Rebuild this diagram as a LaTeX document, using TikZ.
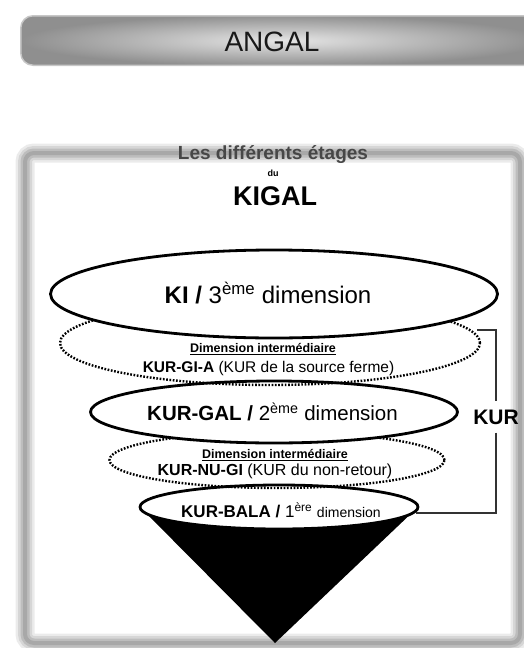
\documentclass[tikz,border=0pt]{standalone}
\usepackage{fontspec}
\setmainfont{Liberation Sans}
\usetikzlibrary{shapes.geometric}
\pgfdeclarelayer{bg}
\pgfsetlayers{bg,main}
\newcommand{\fs}[1]{\fontsize{#1}{#1}\selectfont}
\begin{document}
\begin{tikzpicture}[x=1pt,y=-1pt,
  solidell/.style={ellipse, draw=black, line width=2.8pt, fill=white, inner sep=0pt},
  dotell/.style={ellipse, draw=black, line width=2.4pt, dash pattern=on 1.7pt off 1.6pt, inner sep=0pt},
  lbl/.style={inner sep=0pt, align=center, text=black},
  bracketline/.style={line width=1.6pt, draw=black!80},
  framepath/.style={rounded corners=9pt}
]
\useasboundingbox (0,0) rectangle (524,648);

% banner
\shade[rounded corners=13pt, inner color=black!10, outer color=black!44] (20,15) rectangle (545,66);
\draw[rounded corners=13pt, line width=3pt, white, opacity=0.5] (20,15) rectangle (545,66);
\node[lbl, font=\fs{28}, text=black!90] (angal) at (272,42) {ANGAL};

\begin{pgfonlayer}{bg}
  % frame
  \draw[framepath, line width=19pt, black!8] (25,153) rectangle (520,643);
  \draw[framepath, line width=14pt, black!16] (25,153) rectangle (520,643);
  \draw[framepath, line width=9pt, black!26] (25,153) rectangle (520,643);
  \draw[framepath, line width=4pt, black!34] (25,153) rectangle (520,643);
  % cone
  \coordinate (tip) at (275,643);
  \coordinate (cl) at (140,507);
  \coordinate (cr) at (418,507);
  \fill[black] (cl) -- (tip) -- (cr) -- cycle;
\end{pgfonlayer}

% title
\node[lbl, font=\bfseries\fs{19}, text=black!72] (t1) at (273,155) {Les différents étages};
\node[lbl, font=\bfseries\fs{9}] (t2) at (273,173) {du};
\node[lbl, font=\bfseries\fs{27}] (t3) at (275,196) {KIGAL};

% stacked levels (drawn bottom to top)
\node[solidell, minimum width=278pt, minimum height=44pt] (bala) at (279,507) {};
\node[dotell, minimum width=335pt, minimum height=56pt] (d2) at (277,460) {};
\node[solidell, minimum width=367pt, minimum height=62pt] (gal) at (274,412) {};
\node[dotell, minimum width=420pt, minimum height=84pt] (d1) at (270,343) {};
\node[solidell, minimum width=447pt, minimum height=88pt] (ki) at (274,294) {};

% texts
\node[lbl, font=\fs{24}] (kit) at (268,293) {\textbf{KI / }3\textsuperscript{ème} dimension};
\node[lbl, font=\bfseries\fs{12.5}] (d1a) at (263,349) {\underline{Dimension intermédiaire}};
\node[lbl, font=\fs{15.5}] (d1b) at (268.5,368) {\textbf{KUR-GI-A} (KUR de la source ferme)};
\node[lbl, font=\fs{20.5}] (galt) at (272.5,412) {\textbf{KUR-GAL / }2\textsuperscript{ème} dimension};
\node[lbl, font=\bfseries\fs{12.5}] (d2a) at (275,455) {\underline{Dimension intermédiaire}};
\node[lbl, font=\fs{16}] (d2b) at (275,471) {\textbf{KUR-NU-GI} (KUR du non-retour)};
\node[lbl, font=\fs{17}] (balat) at (281,510) {\textbf{KUR-BALA / }1\textsuperscript{ère} {\fs{14}dimension}};

% bracket
\coordinate (b1) at (477,330);
\coordinate (b2) at (416,513);
\node[font=\bfseries\fs{21}, inner xsep=2pt, inner ysep=8pt] (kur) at (496,417) {KUR};
\draw[bracketline] (b1) -| (kur.north);
\draw[bracketline] (kur.south) |- (b2);
\end{tikzpicture}
\end{document}
